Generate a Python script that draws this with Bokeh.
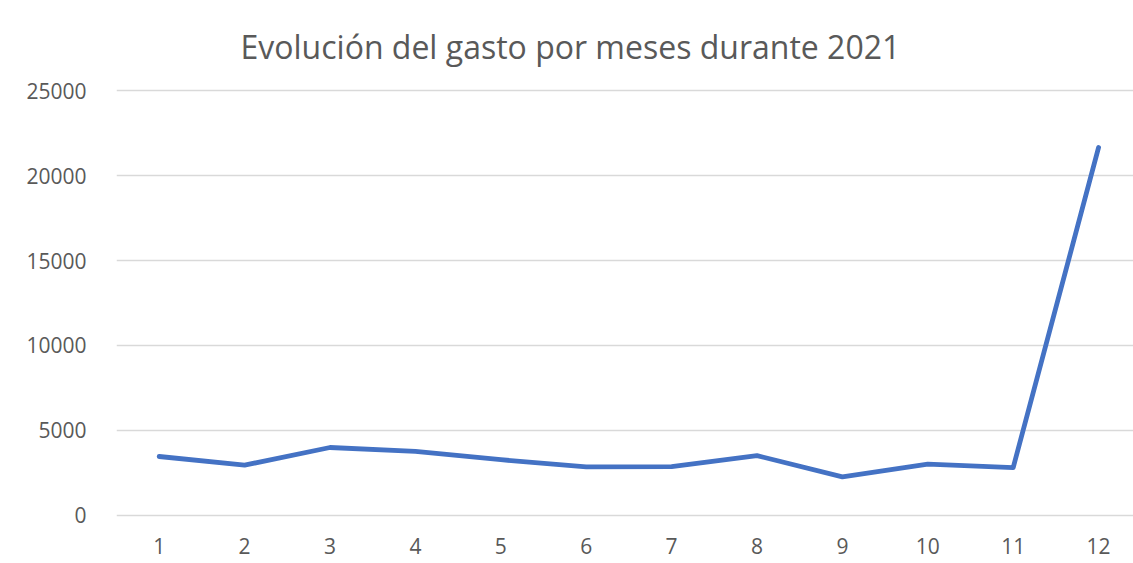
from bokeh.plotting import figure
from bokeh.models import Range1d, FixedTicker, Title
from bokeh.embed import file_html
from bokeh.resources import INLINE

meses = [1, 2, 3, 4, 5, 6, 7, 8, 9, 10, 11, 12]
gasto = [3470, 2960, 4000, 3770, 3280, 2860, 2870, 3520, 2270, 3020, 2820, 21650]
y_ticks = [0, 5000, 10000, 15000, 20000, 25000]
titulo = "Evolución del gasto por meses durante 2021"

W, H = 1133, 563
left = 116
px_x = 85.4
x_end = 0.5 + (W - left) / px_x
px_y = 0.01697  # px per unit
top, bottom = 80, 525
y_start = -(bottom - 515) / px_y
y_end = 25000 + (90 - top) / px_y

p = figure(width=W, height=H, output_backend="svg", toolbar_location=None,
           x_range=Range1d(0.5, x_end), y_range=Range1d(y_start, y_end),
           min_border_left=left, min_border_right=0, min_border_top=top,
           min_border_bottom=H - bottom)
p.title = None
t = Title(text=titulo, align="left", text_font="Open Sans", text_font_size="32px",
          text_font_style="normal", text_color="#595959", offset=124, standoff=26)
p.add_layout(t, "above")

p.line(meses, gasto, line_color="#4472C4", line_width=4.8, line_cap="round", line_join="round")

p.xaxis.ticker = FixedTicker(ticks=meses)
p.yaxis.ticker = FixedTicker(ticks=y_ticks)
for ax in (p.xaxis, p.yaxis):
    ax.axis_line_color = None
    ax.major_tick_line_color = None
    ax.minor_tick_line_color = None
    ax.major_label_text_font = "Open Sans"
    ax.major_label_text_font_size = "21px"
    ax.major_label_text_color = "#595959"
p.xaxis.major_label_standoff = 6
p.yaxis.major_label_standoff = 24

p.xgrid.grid_line_color = None
p.ygrid.grid_line_color = "#d9d9d9"
p.ygrid.grid_line_width = 1.5
p.outline_line_color = None
p.background_fill_color = "white"
p.border_fill_color = "white"

open("out.html", "w").write(file_html(p, INLINE))
